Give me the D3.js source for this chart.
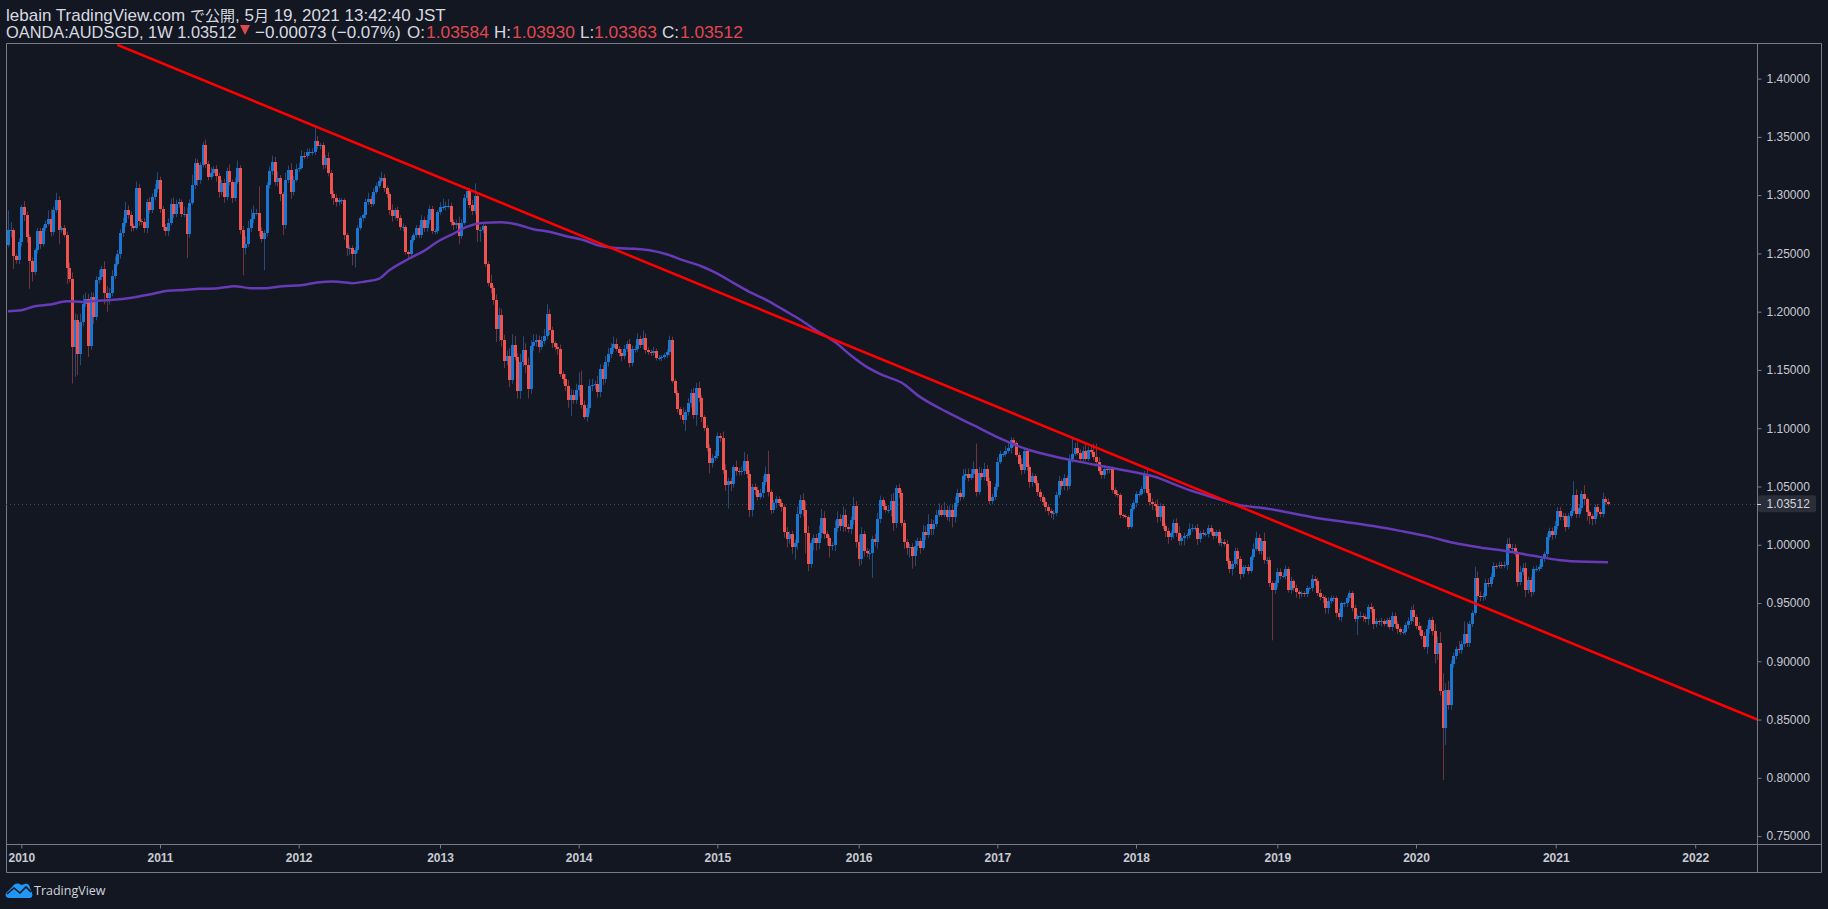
<!DOCTYPE html>
<html>
<head>
<meta charset="utf-8">
<script src="https://d3js.org/d3.v7.min.js"></script>
<style>
  html, body { margin: 0; padding: 0; background: #131722; overflow: hidden; }
  svg { display: block; }
  .axis text { font-family: "Liberation Sans", sans-serif; font-size: 12px; fill: #c8cad1; }
  .xaxis text { font-weight: 700; }
  .axis line, .axis path { stroke: #787b86; }
</style>
</head>
<body>
<svg id="chart" width="1828" height="909"></svg>
<script>
// weekly closes of AUDSGD. open of a week = previous close
const firstOpen = 1.2573;
const closes = [
  1.2699,1.2699,1.2476,1.2442,1.2599,1.2894,1.2828,1.2642,1.2436,1.2339,1.2528,1.2688,1.2579,1.2714,1.2756,1.2799,1.2685,1.2871,1.2962,1.2699,
  1.2714,1.2662,1.2379,1.2282,1.1698,1.1927,1.1641,1.1913,1.2070,1.2113,1.1704,1.2122,1.1956,1.2270,1.2299,1.2362,1.2162,1.2119,1.2162,1.2310,
  1.2413,1.2499,1.2671,1.2762,1.2871,1.2828,1.2736,1.2722,1.3057,1.2776,1.2771,1.2719,1.2942,1.2871,1.2980,1.3051,1.3128,1.2877,1.2728,1.2691,
  1.2765,1.2922,1.2842,1.2922,1.2942,1.2842,1.2842,1.2665,1.2934,1.3085,1.3277,1.3128,1.3257,1.3428,1.3265,1.3157,1.3194,1.3228,1.3165,1.3028,
  1.3100,1.2985,1.3205,1.3114,1.2977,1.3114,1.3237,1.2705,1.2548,1.2585,1.2714,1.2799,1.2851,1.2851,1.2693,1.2625,1.2671,1.3085,1.3205,1.3288,
  1.3114,1.3143,1.3008,1.2742,1.3134,1.3214,1.3028,1.3134,1.3228,1.3237,1.3340,1.3334,1.3371,1.3371,1.3371,1.3466,1.3423,1.3428,1.3260,1.3317,
  1.3191,1.3008,1.2977,1.2942,1.2954,1.2954,1.2656,1.2548,1.2548,1.2499,1.2533,1.2722,1.2805,1.2828,1.2942,1.2971,1.2928,1.3028,1.3077,1.3122,
  1.3151,1.3057,1.3008,1.2871,1.2822,1.2871,1.2808,1.2728,1.2728,1.2513,1.2493,1.2619,1.2656,1.2714,1.2656,1.2785,1.2722,1.2785,1.2877,1.2693,
  1.2693,1.2857,1.2899,1.2899,1.2905,1.2905,1.2771,1.2742,1.2765,1.2650,1.2765,1.2979,1.3034,1.2919,1.2865,1.2991,1.2705,1.2705,1.2733,1.2413,
  1.2247,1.2199,1.2098,1.1850,1.1975,1.1761,1.1575,1.1618,1.1412,1.1712,1.1612,1.1320,1.1569,1.1669,1.1541,1.1335,1.1704,1.1741,1.1755,1.1698,
  1.1749,1.1792,1.1984,1.1841,1.1727,1.1698,1.1678,1.1469,1.1421,1.1363,1.1240,1.1289,1.1240,1.1332,1.1369,1.1198,1.1097,1.1175,1.1360,1.1375,
  1.1378,1.1312,1.1504,1.1421,1.1569,1.1641,1.1692,1.1721,1.1684,1.1649,1.1621,1.1684,1.1721,1.1561,1.1678,1.1684,1.1764,1.1718,1.1778,1.1669,
  1.1655,1.1649,1.1664,1.1606,1.1606,1.1612,1.1627,1.1655,1.1755,1.1406,1.1306,1.1163,1.1117,1.1069,1.1140,1.1218,1.1306,1.1112,1.1349,1.1263,
  1.1092,1.1006,1.0831,1.0703,1.0748,1.0763,1.0934,1.0912,1.0640,1.0511,1.0545,1.0520,1.0663,1.0634,1.0625,1.0631,1.0717,1.0611,1.0302,1.0497,
  1.0468,1.0411,1.0440,1.0540,1.0611,1.0454,1.0302,1.0354,1.0391,1.0360,1.0325,1.0111,1.0048,1.0091,0.9982,1.0016,1.0268,1.0382,1.0302,1.0102,
  0.9833,1.0011,1.0062,1.0011,1.0105,1.0228,1.0091,1.0054,0.9991,0.9996,1.0148,1.0217,1.0159,1.0259,1.0154,1.0134,1.0211,1.0331,1.0025,0.9876,
  1.0091,0.9948,0.9933,0.9933,1.0048,1.0025,1.0225,1.0382,1.0331,1.0302,1.0302,1.0374,1.0188,1.0483,1.0440,1.0188,1.0025,0.9973,0.9982,0.9905,
  0.9991,1.0031,0.9973,1.0111,1.0082,1.0182,1.0134,1.0182,1.0259,1.0297,1.0259,1.0297,1.0239,1.0297,1.0239,1.0354,1.0440,1.0411,1.0588,1.0603,
  1.0574,1.0611,1.0654,1.0454,1.0620,1.0583,1.0654,1.0545,1.0377,1.0411,1.0497,1.0711,1.0777,1.0777,1.0806,1.0826,1.0903,1.0869,1.0774,1.0697,
  1.0640,1.0806,1.0663,1.0540,1.0588,1.0534,1.0454,1.0411,1.0368,1.0325,1.0288,1.0274,1.0274,1.0425,1.0545,1.0503,1.0577,1.0503,1.0734,1.0783,
  1.0834,1.0789,1.0734,1.0803,1.0740,1.0817,1.0797,1.0754,1.0711,1.0634,1.0597,1.0646,1.0640,1.0646,1.0468,1.0434,1.0425,1.0254,1.0248,1.0239,
  1.0154,1.0311,1.0362,1.0434,1.0434,1.0477,1.0603,1.0448,1.0368,1.0348,1.0331,1.0240,1.0331,1.0162,1.0117,1.0068,1.0097,1.0188,1.0097,1.0034,
  1.0054,1.0077,1.0082,1.0134,1.0148,1.0148,1.0048,1.0105,1.0091,1.0091,1.0140,1.0111,1.0077,1.0111,1.0019,1.0025,1.0005,0.9862,0.9796,0.9831,
  0.9945,0.9876,0.9753,0.9805,0.9805,0.9776,0.9891,0.9962,1.0062,0.9945,1.0031,0.9873,0.9873,0.9668,0.9610,0.9668,0.9762,0.9733,0.9733,0.9791,
  0.9610,0.9685,0.9633,0.9596,0.9576,0.9582,0.9576,0.9625,0.9625,0.9702,0.9691,0.9590,0.9553,0.9539,0.9459,0.9519,0.9539,0.9539,0.9416,0.9382,
  0.9496,0.9496,0.9539,0.9582,0.9459,0.9367,0.9387,0.9387,0.9382,0.9362,0.9462,0.9453,0.9316,0.9344,0.9339,0.9344,0.9324,0.9353,0.9296,0.9387,
  0.9324,0.9276,0.9253,0.9253,0.9310,0.9347,0.9439,0.9376,0.9305,0.9267,0.9219,0.9124,0.9276,0.9353,0.9262,0.9062,0.9153,0.8747,0.8424,0.8753,
  0.8624,0.8976,0.9047,0.9104,0.9096,0.9147,0.9233,0.9153,0.9319,0.9416,0.9711,0.9559,0.9548,0.9559,0.9676,0.9662,0.9725,0.9819,0.9817,0.9825,
  0.9819,0.9825,1.0005,0.9968,0.9968,0.9917,0.9682,0.9768,0.9802,0.9611,0.9696,0.9596,0.9788,0.9796,0.9811,0.9882,0.9917,1.0068,1.0117,1.0083,
  1.0163,1.0288,1.0240,1.0246,1.0154,1.0246,1.0291,1.0426,1.0268,1.0317,1.0434,1.0389,1.0277,1.0246,1.0217,1.0320,1.0277,1.0260,1.0389,1.0363,
  1.03512
];

// wick length above / below the body, in pips
const wickUp = [
  170,70,20,20,30,20,55,30,20,30,15,30,30,25,25,70,80,30,60,30,
  20,30,25,40,55,60,50,70,75,50,40,45,40,35,60,30,70,55,40,45,
  60,30,35,45,70,40,30,20,60,40,20,30,25,40,35,45,70,30,30,25,
  35,50,60,40,30,20,60,50,30,90,40,30,25,30,50,30,45,20,30,25,
  30,40,30,60,20,40,60,20,30,60,65,80,60,30,225,30,30,25,40,50,
  40,60,30,20,60,40,60,30,40,40,45,30,30,30,30,120,40,20,25,30,
  50,25,30,30,25,20,20,20,20,20,20,20,15,15,30,50,25,30,30,35,
  50,30,25,20,50,20,30,20,30,15,15,25,20,30,30,45,30,45,35,30,
  20,15,40,70,40,60,30,20,25,50,30,30,25,30,40,110,25,20,35,15,
  20,70,25,50,60,50,40,50,70,95,80,30,70,120,60,65,50,65,50,40,
  40,60,80,40,30,20,30,40,20,45,50,45,40,50,110,125,40,30,60,50,
  30,70,45,40,50,50,40,65,50,20,30,30,30,45,30,25,50,30,60,35,
  25,20,35,20,20,15,20,25,40,30,20,15,20,60,20,40,30,40,40,50,
  20,20,20,30,30,45,30,25,60,50,30,30,20,60,25,40,80,60,30,25,
  30,30,40,50,60,195,20,30,30,25,30,20,40,25,30,30,60,45,60,70,
  60,30,25,30,60,80,60,30,25,25,60,70,45,70,45,25,30,80,45,60,
  60,30,25,30,30,45,50,40,25,30,40,60,70,30,40,30,25,25,25,30,
  50,30,25,60,50,80,40,30,40,60,40,70,40,40,50,60,40,35,60,50,
  50,40,60,215,50,35,50,30,30,25,30,40,30,20,40,55,20,15,20,20,
  45,25,25,25,30,20,20,25,20,30,25,20,20,30,45,20,30,20,40,143,
  40,50,30,40,60,25,40,70,114,40,50,35,30,20,25,25,30,20,15,15,
  15,30,20,25,25,25,30,45,30,30,30,60,25,20,20,30,25,30,40,60,
  30,25,20,50,30,15,30,15,25,20,30,30,25,15,20,30,25,35,20,30,
  30,30,25,20,20,25,20,50,50,30,25,74,20,25,20,25,40,35,25,30,
  20,40,20,25,15,20,20,25,15,40,30,25,30,20,25,30,25,20,20,35,
  15,15,25,25,20,25,15,40,25,20,25,40,20,25,15,30,20,20,25,35,
  30,20,20,25,25,30,30,50,25,30,40,30,35,20,30,60,60,100,150,60,
  80,30,25,25,70,30,110,100,30,20,100,60,40,30,30,35,30,30,20,30,
  25,30,50,57,40,40,30,50,40,45,30,30,25,25,20,25,25,30,30,30,
  40,35,35,25,25,25,30,120,50,30,30,77,20,20,20,25,30,30,57,25,
  35
];
const wickDown = [
  20,60,110,30,35,40,50,50,240,80,25,30,40,20,20,20,40,30,20,120,
  20,25,140,30,315,257,186,100,40,30,92,30,60,30,30,30,100,120,60,30,
  30,20,45,30,30,30,50,30,20,40,30,40,45,30,25,25,30,30,30,40,
  40,25,40,30,30,30,30,205,30,20,35,50,30,20,30,30,25,30,50,50,
  30,50,30,30,45,30,20,40,235,60,30,30,40,25,50,30,270,30,30,30,
  30,40,60,85,30,30,60,30,20,30,20,25,20,30,30,25,30,30,40,30,
  30,40,60,40,30,30,40,70,60,100,120,30,25,30,30,25,30,20,20,20,
  15,30,30,40,50,30,30,30,40,25,30,20,25,20,25,25,40,35,30,25,
  30,25,25,25,30,20,35,40,30,70,25,20,30,30,35,30,106,106,30,30,
  30,40,40,109,100,60,60,35,60,30,30,66,70,40,70,80,40,40,40,50,
  25,30,30,40,40,30,50,30,40,45,65,134,30,30,60,30,20,40,50,40,
  40,50,45,50,35,40,40,40,25,35,45,30,30,40,30,30,30,30,40,30,
  25,30,25,25,25,30,20,25,30,20,20,30,40,35,92,30,40,30,92,40,
  40,30,30,90,40,30,25,30,30,50,200,60,30,40,30,30,30,40,63,60,
  40,30,20,40,30,40,40,30,40,30,40,50,70,40,60,110,60,40,60,177,
  60,30,60,60,50,50,40,60,100,40,50,40,40,50,40,30,45,40,50,60,
  45,50,40,60,217,40,60,40,30,25,30,60,70,45,40,30,60,60,80,110,
  90,40,50,20,40,25,50,50,30,20,20,20,30,40,90,50,30,35,20,30,
  30,20,40,40,25,30,30,40,30,30,30,30,20,25,20,20,45,30,20,30,
  40,30,30,50,40,25,35,40,30,40,35,45,60,25,25,30,35,40,25,30,
  20,20,30,20,20,20,20,25,20,25,30,30,30,25,25,20,20,25,20,15,
  20,15,20,40,20,15,30,25,30,50,40,50,40,30,50,60,30,45,30,40,
  40,60,30,25,20,30,50,30,20,20,30,25,30,20,25,35,20,25,40,60,
  25,50,50,30,25,30,20,20,15,25,30,35,40,30,430,30,35,30,20,30,
  20,30,30,50,40,25,25,25,20,25,40,30,30,40,50,50,25,30,40,30,
  40,30,30,25,30,30,143,20,40,30,50,35,40,25,30,40,25,30,25,35,
  40,40,25,25,25,30,30,40,30,40,30,20,60,40,40,80,50,40,443,143,
  40,40,30,30,30,30,25,30,30,25,20,30,30,30,30,25,25,25,25,20,
  25,20,40,30,30,20,40,30,30,60,30,45,25,20,25,20,30,30,30,40,
  30,30,30,30,40,20,20,20,40,35,30,50,70,70,50,40,30,25,25,20,
  15
];

// moving average, bar number and value
const maBars = [0,5,10,16,22,28,35,41,47,53,60,66,72,78,85,91,97,103,110,116,122,129,134,139,143,150,156,162,166,172,178,185,191,197,203,209,216,222,228,235,241,247,253,260,266,272,278,285,291,297,303,310,316,322,328,335,342,352,362,372,382,392,402,412,417,430,442,452,462,472,482,492,502,512,522,532,542,552,562,572,582,586,600];
const maValues = [1.2004,1.2013,1.2047,1.2061,1.2090,1.2084,1.2096,1.2104,1.2122,1.2147,1.2179,1.2187,1.2196,1.2199,1.2219,1.2202,1.2202,1.2219,1.2227,1.2250,1.2259,1.2245,1.2259,1.2282,1.2356,1.2450,1.2522,1.2613,1.2656,1.2728,1.2762,1.2768,1.2748,1.2708,1.2685,1.2650,1.2613,1.2565,1.2547,1.2539,1.2525,1.2493,1.2442,1.2390,1.2327,1.2247,1.2170,1.2093,1.2013,1.1933,1.1841,1.1741,1.1626,1.1526,1.1455,1.1392,1.1269,1.1140,1.1026,1.0912,1.0820,1.0760,1.0711,1.0668,1.0646,1.0583,1.0477,1.0405,1.0340,1.0311,1.0268,1.0225,1.0194,1.0160,1.0119,1.0074,1.0017,0.9977,0.9945,0.9905,0.9868,0.9859,0.9850];

// trend line ends
const trendBars = [41, 656];
const trendValues = [1.4290, 0.8500];

const yearLabels = ['2010','2011','2012','2013','2014','2015','2016','2017','2018','2019','2020','2021','2022'];
const yearBars = [5,57,109,162,214,266,319,371,423,476,528,580.4,632.7];
const priceTicks = [0.75,0.80,0.85,0.90,0.95,1.00,1.05,1.10,1.15,1.20,1.25,1.30,1.35,1.40];
const lastPrice = 1.03512;

const bg = '#131722', upColor = '#1976d2', downColor = '#ef5350';
const plotLeft = 6, plotRight = 1757, plotTop = 44, plotBottom = 844;

const svg = d3.select('#chart');
const x = d3.scaleLinear().domain([0, 600]).range([8, 1608]);
const y = d3.scaleLinear().domain([0.75, 1.40]).range([836.1, 78.6]);

const bars = closes.map((c, i) => {
  const o = i ? closes[i - 1] : firstOpen;
  return {
    i, o, c,
    h: Math.max(o, c) + wickUp[i] / 10000,
    l: Math.min(o, c) - wickDown[i] / 10000
  };
});

svg.append('rect').attr('width', 1828).attr('height', 909).attr('fill', bg);
svg.append('clipPath').attr('id', 'plot')
  .append('rect').attr('x', plotLeft).attr('y', plotTop).attr('width', plotRight - plotLeft).attr('height', plotBottom - plotTop);

// frame
svg.append('path')
  .attr('d', `M${plotLeft + .5},${plotTop - .5}H1821.5V872.5H${plotLeft + .5}Z M${plotLeft},844.5H1821.5 M${plotRight + .5},${plotTop}V872`)
  .attr('fill', 'none').attr('stroke', '#787b86');

const plot = svg.append('g').attr('clip-path', 'url(#plot)');

// last price dots
plot.append('line')
  .attr('x1', plotLeft).attr('x2', plotRight)
  .attr('y1', Math.round(y(lastPrice)) + .5).attr('y2', Math.round(y(lastPrice)) + .5)
  .attr('stroke', '#454852').attr('stroke-dasharray', '1 3');

plot.selectAll('.wick').data(bars).join('line')
  .attr('class', 'wick')
  .attr('x1', d => Math.round(x(d.i)) + .5).attr('x2', d => Math.round(x(d.i)) + .5)
  .attr('y1', d => y(d.h)).attr('y2', d => y(d.l))
  .attr('stroke', d => d.c >= d.o ? '#1f4d80' : '#74333a');

plot.selectAll('.body').data(bars).join('rect')
  .attr('class', 'body')
  .attr('x', d => Math.round(x(d.i)) - 1)
  .attr('width', 3)
  .attr('y', d => y(Math.max(d.o, d.c)))
  .attr('height', d => Math.max(1, Math.abs(y(d.o) - y(d.c))))
  .attr('fill', d => d.c >= d.o ? upColor : downColor)
  .attr('shape-rendering', 'crispEdges');

const line = d3.line().x(d => x(d[0])).y(d => y(d[1])).curve(d3.curveMonotoneX);
plot.append('path')
  .datum(maBars.map((b, i) => [b, maValues[i]]))
  .attr('d', line).attr('fill', 'none').attr('stroke', '#673ab7').attr('stroke-width', 2.5);

plot.append('path')
  .datum(trendBars.map((b, i) => [b, trendValues[i]]))
  .attr('d', d3.line().x(d => x(d[0])).y(d => y(d[1])))
  .attr('fill', 'none').attr('stroke', '#ff0000').attr('stroke-width', 2.5);

// axes
const yAxis = d3.axisRight(y).tickValues(priceTicks).tickSize(4).tickPadding(5)
  .tickFormat(d => d.toFixed(5));
const yG = svg.append('g').attr('class', 'axis').attr('transform', `translate(${plotRight + .5},0)`).call(yAxis);
yG.select('.domain').remove();
yG.selectAll('text').attr('text-anchor', 'start');

const xAxis = d3.axisBottom(x).tickValues(yearBars).tickSize(4).tickPadding(5)
  .tickFormat((d, i) => yearLabels[i]);
const xG = svg.append('g').attr('class', 'axis xaxis').attr('transform', `translate(0,${plotBottom + .5})`).call(xAxis);
xG.select('.domain').remove();

// last price label
const ly = y(lastPrice);
svg.append('rect').attr('x', plotRight + 1).attr('y', ly - 8.5).attr('width', 58).attr('height', 17)
  .attr('rx', 2).attr('fill', '#2a2e39');
svg.append('line').attr('x1', plotRight).attr('x2', plotRight + 4).attr('y1', Math.round(ly) + .5).attr('y2', Math.round(ly) + .5)
  .attr('stroke', '#d1d4dc');
svg.append('text').attr('x', plotRight + 9.5).attr('y', ly + 4.5)
  .attr('font-family', '"Liberation Sans", sans-serif').attr('font-size', 12)
  .attr('fill', '#d1d4dc').text(lastPrice.toFixed(5));

// header
const headFont = '"Liberation Sans", "Noto Sans CJK JP", sans-serif';
const headText = '#d8dae0', headRed = '#e0484e';

const title = svg.append('text').attr('x', 6).attr('y', 21)
  .attr('font-family', headFont).attr('font-size', 17).attr('fill', headText);
[['lebain TradingView.com ', 17], ['で公開', 15], [', 5', 17], ['月', 15], [' 19, 2021 13:42:40 JST', 17]]
  .forEach(([t, size]) => title.append('tspan').attr('font-size', size).text(t));

const info = svg.append('text').attr('y', 38)
  .attr('font-family', headFont).attr('font-size', 17).attr('fill', headText);
[[6, 'OANDA:AUDSGD, 1W 1.03512', null, 16.4], [255, '−0.00073 (−0.07%)', null, 17], [407, 'O:', null, 17],
 [426, '1.03584', headRed, 17.4], [494, 'H:', null, 17], [512, '1.03930', headRed, 17.4],
 [580, 'L:', null, 17], [594, '1.03363', headRed, 17.4], [662, 'C:', null, 17], [680, '1.03512', headRed, 17.4]]
  .forEach(([px, t, col, size]) => {
    const s = info.append('tspan').attr('x', px).attr('font-size', size).text(t);
    if (col) s.attr('fill', col);
  });
svg.append('path').attr('d', 'M240,25H250L245,35Z').attr('fill', headRed);

// logo
const logo = svg.append('g').attr('transform', 'translate(6,883)');
logo.append('path')
  .attr('d', 'M0,10 L7,3 C9,0 13,0 15,2 L19,1 C22,0 24,3 24,5 L26,10 C27,13 26,15 23,15 L3,15 C0,15 -1,12 0,10Z')
  .attr('fill', '#2196f3');
logo.append('path')
  .attr('d', 'M1,11 L8,5 L14,10 L20,4 L25,9')
  .attr('fill', 'none').attr('stroke', bg).attr('stroke-width', 1.6);
svg.append('text').attr('x', 34).attr('y', 895)
  .attr('font-family', '"Open Sans", sans-serif').attr('font-size', 12.5).attr('fill', '#d1d4dc')
  .text('TradingView');
</script>
</body>
</html>
